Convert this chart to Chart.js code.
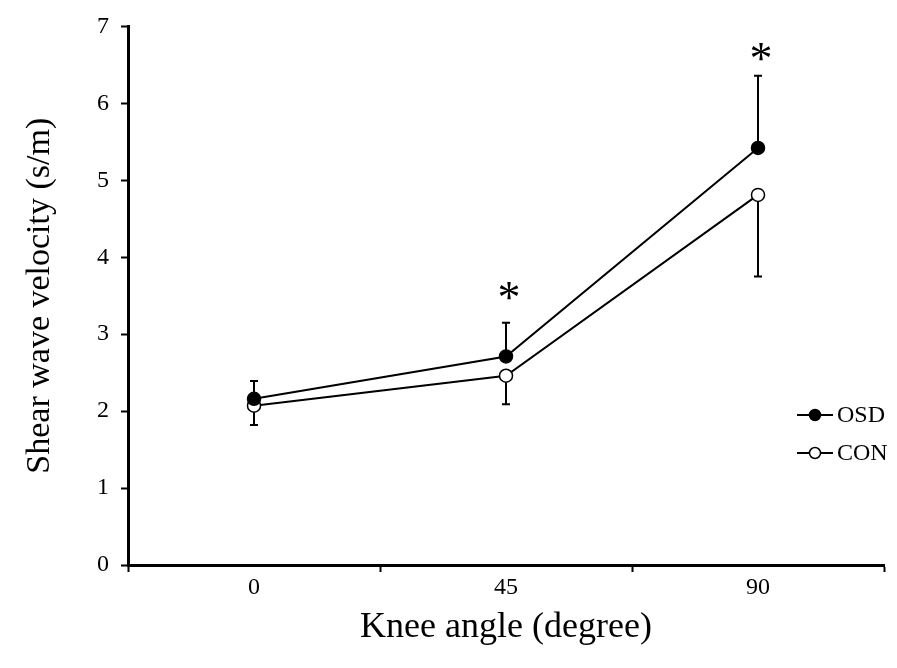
<!DOCTYPE html>
<html>
<head>
<meta charset="utf-8">
<script src="https://cdn.jsdelivr.net/npm/chart.js@4"></script>
<style>
  html, body { margin: 0; padding: 0; background: #fff; }
  #wrap { width: 897px; height: 668px; }
</style>
</head>
<body>
<div id="wrap"><canvas id="c" width="897" height="668"></canvas></div>
<script>
// Knee angle categories (degrees)
const angles = ['0', '45', '90'];
// Shear wave velocity, mean and SD per group
const osdMean = [2.16, 2.71, 5.42];
const osdSD   = [0.23, 0.44, 0.94];
const conMean = [2.07, 2.46, 4.81];
const conSD   = [0.25, 0.37, 1.06];
// Height of the significance asterisk at each angle (null = none)
const sigLevel = [null, 3.55, 6.65];
// y axis range and tick step
const yMin = 0, yMax = 7, yStep = 1;

const SERIF = '"Liberation Serif", "DejaVu Serif", serif';

// Error bars: OSD drawn upward, CON drawn downward
const errorBars = {
  id: 'errorBars',
  beforeDatasetsDraw(chart) {
    const { ctx, scales: { y } } = chart;
    const groups = [
      { mean: osdMean, sd: osdSD, dir: 1 },
      { mean: conMean, sd: conSD, dir: -1 }
    ];
    ctx.save();
    ctx.strokeStyle = '#000';
    ctx.lineWidth = 2;
    groups.forEach((g, di) => {
      const meta = chart.getDatasetMeta(di);
      meta.data.forEach((pt, i) => {
        const x = pt.x;
        const y0 = y.getPixelForValue(g.mean[i]);
        const y1 = y.getPixelForValue(g.mean[i] + g.dir * g.sd[i]);
        ctx.beginPath();
        ctx.moveTo(x, y0);
        ctx.lineTo(x, y1);
        ctx.moveTo(x - 4, y1);
        ctx.lineTo(x + 4, y1);
        ctx.stroke();
      });
    });
    ctx.restore();
  }
};

// Significance asterisks
const sigMarks = {
  id: 'sigMarks',
  afterDatasetsDraw(chart) {
    const { ctx, scales: { x, y } } = chart;
    ctx.save();
    ctx.fillStyle = '#000';
    ctx.font = '46px ' + SERIF;
    ctx.textAlign = 'center';
    ctx.textBaseline = 'alphabetic';
    sigLevel.forEach((v, i) => {
      if (v === null) return;
      const px = x.getPixelForValue(i) + 3;
      const py = y.getPixelForValue(v);
      ctx.fillText('*', px, py + 46 * 0.45);
    });
    ctx.restore();
  }
};

// Legend drawn as line + marker + label
const sideLegend = {
  id: 'sideLegend',
  afterDraw(chart) {
    const { ctx } = chart;
    const rows = [415, 453];
    ctx.save();
    chart.data.datasets.forEach((ds, i) => {
      const yy = rows[i];
      ctx.strokeStyle = '#000';
      ctx.lineWidth = 2;
      ctx.beginPath();
      ctx.moveTo(797, yy);
      ctx.lineTo(833, yy);
      ctx.stroke();
      ctx.beginPath();
      ctx.arc(815, yy, 5.5, 0, Math.PI * 2);
      ctx.fillStyle = ds.pointBackgroundColor;
      ctx.fill();
      ctx.lineWidth = 1.5;
      ctx.stroke();
      ctx.fillStyle = '#000';
      ctx.font = '24px ' + SERIF;
      ctx.textAlign = 'left';
      ctx.textBaseline = 'middle';
      ctx.fillText(ds.label, 837, yy + 1);
    });
    ctx.restore();
  }
};

const axisCommon = {
  grid: { drawOnChartArea: false, drawTicks: true, tickLength: 7, tickWidth: 2, tickColor: '#000' },
  border: { display: true, color: '#000', width: 3 }
};

new Chart(document.getElementById('c'), {
  type: 'line',
  data: {
    labels: angles,
    datasets: [
      {
        label: 'OSD', data: osdMean,
        borderColor: '#000', borderWidth: 2, tension: 0, fill: false,
        pointRadius: 6.5, pointBackgroundColor: '#000', pointBorderColor: '#000', pointBorderWidth: 1.5
      },
      {
        label: 'CON', data: conMean,
        borderColor: '#000', borderWidth: 2, tension: 0, fill: false,
        pointRadius: 6.5, pointBackgroundColor: '#fff', pointBorderColor: '#000', pointBorderWidth: 1.5
      }
    ]
  },
  options: {
    responsive: false,
    animation: false,
    devicePixelRatio: 1,
    layout: { padding: { left: 0, right: 13, top: 25, bottom: 0 } },
    plugins: { legend: { display: false }, tooltip: { enabled: false } },
    scales: {
      x: {
        type: 'category',
        offset: true,
        grid: Object.assign({ offset: true }, axisCommon.grid),
        border: axisCommon.border,
        ticks: { color: '#000', font: { family: SERIF, size: 24 }, padding: 1, maxRotation: 0 },
        title: {
          display: true, text: 'Knee angle (degree)', color: '#000',
          font: { family: SERIF, size: 36, lineHeight: 1 },
          padding: { top: 0, bottom: 22 }
        },
        afterFit(s) { s.height = 103; }
      },
      y: {
        min: yMin, max: yMax,
        grid: axisCommon.grid,
        border: axisCommon.border,
        ticks: { stepSize: yStep, color: '#000', font: { family: SERIF, size: 24 }, padding: 12 },
        title: {
          display: true, text: 'Shear wave velocity (s/m)', color: '#000',
          font: { family: SERIF, size: 34, lineHeight: 1 },
          padding: { top: 23, bottom: 0 }
        },
        afterFit(s) { s.width = 128; }
      }
    }
  },
  plugins: [errorBars, sigMarks, sideLegend]
});
</script>
</body>
</html>
